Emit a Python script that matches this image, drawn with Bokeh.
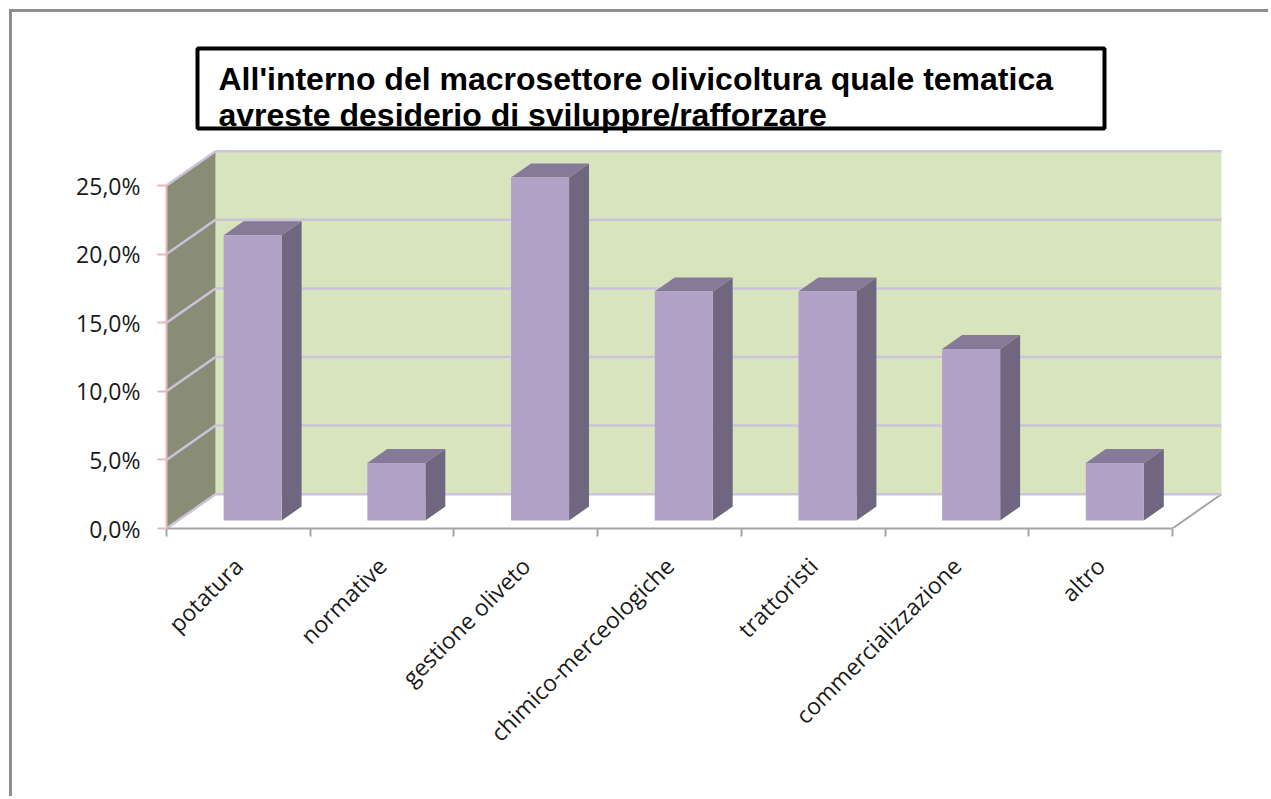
import numpy as np
from math import pi
from bokeh.plotting import figure
from bokeh.models import (Range1d, FixedTicker, CustomJSTickFormatter, BoxAnnotation,
                          Label, ColumnDataSource)
from bokeh.embed import file_html
from bokeh.resources import INLINE

# ---------------- data ----------------
categories = ["potatura", "normative", "gestione oliveto", "chimico-merceologiche",
              "trattoristi", "commercializzazione", "altro"]
values = [20.8, 4.2, 25.0, 16.7, 16.7, 12.5, 4.2]          # percent
y_ticks = [0, 5, 10, 15, 20, 25]
y_tick_labels = ["0,0%", "5,0%", "10,0%", "15,0%", "20,0%", "25,0%"]
title_lines = ["All'interno  del macrosettore  olivicoltura quale tematica",
               "avreste desiderio di sviluppre/rafforzare"]

# ---------------- layout constants ----------------
MARGIN = 9                # css margin before the border
BORDER = 3
ORG = MARGIN + BORDER     # screen offset of canvas
W, H = 1271 - ORG, 799 - ORG
AX_X, AX_Y = 166, 528     # screen position of the axes origin
PXU = 143.7               # pixels per category
PXP = 13.72               # pixels per percent point
DX = 49 / PXU             # depth offset (x, in category units)
DY = 34.3 / PXP           # depth offset (y, in percent units)
Z0, Z1 = 0.233, 0.64      # bar depth (fraction of full depth)
HW = 0.202                # bar half width
SHIFT = 0.02

n = len(categories)
ymax = max(y_ticks)

def sx(px):
    return (px - AX_X) / PXU

def sy(py):
    return (AX_Y - py) / PXP

p = figure(width=W, height=H,
           x_range=Range1d(0, (W - (AX_X - ORG)) / PXU),
           y_range=Range1d(0, (AX_Y - ORG) / PXP),
           output_backend="svg", toolbar_location=None,
           min_border_left=AX_X - ORG, min_border_right=0, min_border_top=0,
           min_border_bottom=H - (AX_Y - ORG))
p.styles = {"border-left": f"{BORDER}px solid #8e8e8e", "border-top": f"{BORDER}px solid #8e8e8e",
            "margin-left": f"{MARGIN}px", "margin-top": f"{MARGIN}px"}
p.outline_line_color = None
p.grid.visible = False
p.background_fill_color = "white"
p.border_fill_color = "white"

GRID = "#CDC2DB"

# back wall
p.patch([DX, n + DX, n + DX, DX], [DY, DY, ymax + DY, ymax + DY],
        fill_color="#D7E4BD", line_color=None)
# side wall
p.patch([0, DX, DX, 0], [0, DY, ymax + DY, ymax], fill_color="#898D76", line_color=None)
# floor
p.patch([0, n, n + DX, DX], [0, 0, DY, DY], fill_color="white", line_color=None)
p.segment(x0=[n], y0=[0], x1=[n + DX], y1=[DY], line_color="#A6A6A6", line_width=2)

# gridlines
yt = np.array(y_ticks, dtype=float)
p.segment(x0=np.full(len(yt), DX), y0=yt + DY, x1=np.full(len(yt), n + DX), y1=yt + DY,
          line_color=GRID, line_width=2.5)
p.segment(x0=np.zeros(len(yt)), y0=yt, x1=np.full(len(yt), DX), y1=yt + DY,
          line_color=GRID, line_width=2.5)

# bars
fx, fy, sxs, sys_, tx, ty = [], [], [], [], [], []
for i, v in enumerate(values):
    xc = i + 0.5 + SHIFT
    l0, r0 = xc - HW + Z0 * DX, xc + HW + Z0 * DX
    l1, r1 = xc - HW + Z1 * DX, xc + HW + Z1 * DX
    b0, b1 = Z0 * DY, Z1 * DY
    fx.append([l0, r0, r0, l0]); fy.append([b0, b0, v + b0, v + b0])
    sxs.append([r0, r1, r1, r0]); sys_.append([b0, b1, v + b1, v + b0])
    tx.append([l0, r0, r1, l1]); ty.append([v + b0, v + b0, v + b1, v + b1])
p.patches(sxs, sys_, fill_color="#71667F", line_color=None)
p.patches(tx, ty, fill_color="#857A98", line_color=None)
p.patches(fx, fy, fill_color="#B3A2C7", line_color=None)

# axes
ya = p.yaxis[0]
ya.ticker = FixedTicker(ticks=y_ticks, minor_ticks=[])
ya.formatter = CustomJSTickFormatter(args=dict(tvals=y_ticks, tlabels=y_tick_labels),
    code="const i = tvals.indexOf(tick); return i >= 0 ? tlabels[i] : '';")
ya.bounds = (0, ymax)
ya.axis_line_color = "#E6B9B8"
ya.axis_line_width = 2
ya.major_tick_line_color = "#E6B9B8"
ya.major_tick_line_width = 2
ya.major_tick_out = 9
ya.major_tick_in = 0
ya.major_label_standoff = 17
ya.major_label_text_font = "Open Sans"
ya.major_label_text_font_size = "23px"
ya.major_label_text_color = "#1a1a1a"

xa = p.xaxis[0]
xa.ticker = FixedTicker(ticks=[i + 0.5 for i in range(n)], minor_ticks=list(range(n + 1)))
xa.formatter = CustomJSTickFormatter(args=dict(cats=categories),
    code="return cats[Math.floor(tick)];")
xa.bounds = (0, n)
xa.axis_line_color = "#A6A6A6"
xa.axis_line_width = 2
xa.major_tick_line_color = None
xa.major_tick_out = 0
xa.major_tick_in = 0
xa.minor_tick_line_color = "#A6A6A6"
xa.minor_tick_line_width = 2
xa.minor_tick_out = 8
xa.minor_tick_in = 0
xa.major_label_orientation = pi / 4
xa.major_label_standoff = 25
xa.major_label_text_font = "Open Sans"
xa.major_label_text_font_size = "23px"
xa.major_label_text_color = "#1a1a1a"

# title box
for k, base in enumerate([78, 114]):
    p.add_layout(Label(x=sx(218), y=sy(base), text=title_lines[k], text_font="Liberation Sans",
                       text_font_style="bold", text_font_size="32px", text_color="black",
                       text_baseline="alphabetic"))
p.add_layout(BoxAnnotation(left=sx(197), right=sx(1104), top=sy(48), bottom=sy(128),
                           fill_alpha=0, line_color="black", line_alpha=1.0, line_width=4))

open("out.html", "w").write(file_html(p, INLINE))
